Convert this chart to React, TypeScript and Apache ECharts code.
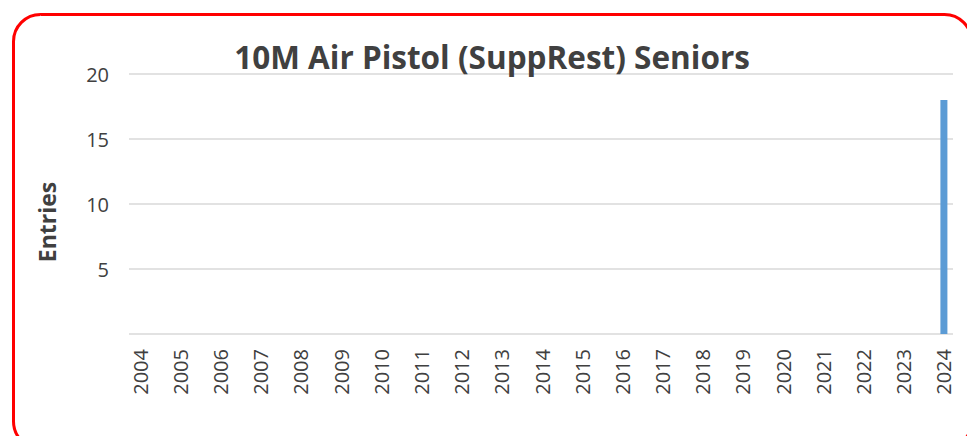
import React, { useEffect, useRef } from "react";
import * as echarts from "echarts";

const years: string[] = ["2004","2005","2006","2007","2008","2009","2010","2011","2012","2013","2014","2015","2016","2017","2018","2019","2020","2021","2022","2023","2024"];
const entries: (number | null)[] = [null,null,null,null,null,null,null,null,null,null,null,null,null,null,null,null,null,null,null,null,18];
const yTicks = { min: 0, max: 20, interval: 5 };
const titleText = "10M Air Pistol (SuppRest) Seniors";
const yName = "Entries";

const FONT = "'Open Sans', sans-serif";

export default function App() {
  const ref = useRef<HTMLDivElement>(null);
  useEffect(() => {
    if (!ref.current) return;
    const chart = echarts.init(ref.current, undefined, { renderer: "svg" });
    chart.setOption({
      animation: false,
      backgroundColor: "#ffffff",
      title: {
        text: titleText,
        left: 487,
        top: 35,
        textAlign: "center",
        textStyle: { fontFamily: FONT, fontWeight: "bold", fontSize: 31.5, color: "#404040" },
      },
      graphic: [
        {
          type: "rect",
          shape: { x: 13.5, y: 14.5, width: 958, height: 434, r: 27 },
          style: { fill: "none", stroke: "#ff0000", lineWidth: 3 },
          silent: true,
        },
        {
          type: "text",
          x: 47,
          y: 222,
          rotation: Math.PI / 2,
          style: {
            text: yName,
            fontFamily: FONT,
            fontWeight: "bold",
            fontSize: 23,
            fill: "#404040",
            align: "center",
            verticalAlign: "middle",
          },
          silent: true,
        },
      ],
      grid: [
        { left: 129, right: 14, top: 74, bottom: 102 },
        { left: 120, right: 3, top: 74, bottom: 102 },
      ],
      xAxis: [
        { type: "category", gridIndex: 0, data: years, show: false },
        {
          type: "category",
          gridIndex: 1,
          data: years,
          axisLine: { show: false },
          axisTick: { show: false },
          axisLabel: { rotate: 90, margin: 15, fontFamily: FONT, fontSize: 20, color: "#404040" },
        },
      ],
      yAxis: [
        {
          type: "value",
          gridIndex: 0,
          min: yTicks.min,
          max: yTicks.max,
          interval: yTicks.interval,
          axisLine: { show: false },
          axisTick: { show: false },
          axisLabel: {
            margin: 20,
            fontFamily: FONT,
            fontSize: 20,
            color: "#404040",
            formatter: (v: number) => (v === 0 ? "" : String(v)),
          },
          splitLine: { lineStyle: { color: "#d9d9d9", width: 1.5 } },
        },
        {
          type: "value",
          gridIndex: 1,
          min: yTicks.min,
          max: yTicks.max,
          interval: yTicks.interval,
          show: false,
          splitLine: { show: false },
        },
      ],
      series: [
        {
          type: "bar",
          xAxisIndex: 1,
          yAxisIndex: 1,
          data: entries,
          barWidth: 7,
          itemStyle: { color: "#5b9bd5" },
        },
      ],
    });
    return () => chart.dispose();
  }, []);
  return (
    <div
      ref={ref}
      style={{ position: "fixed", left: 0, top: 0, width: 967, height: 436 }}
    />
  );
}
